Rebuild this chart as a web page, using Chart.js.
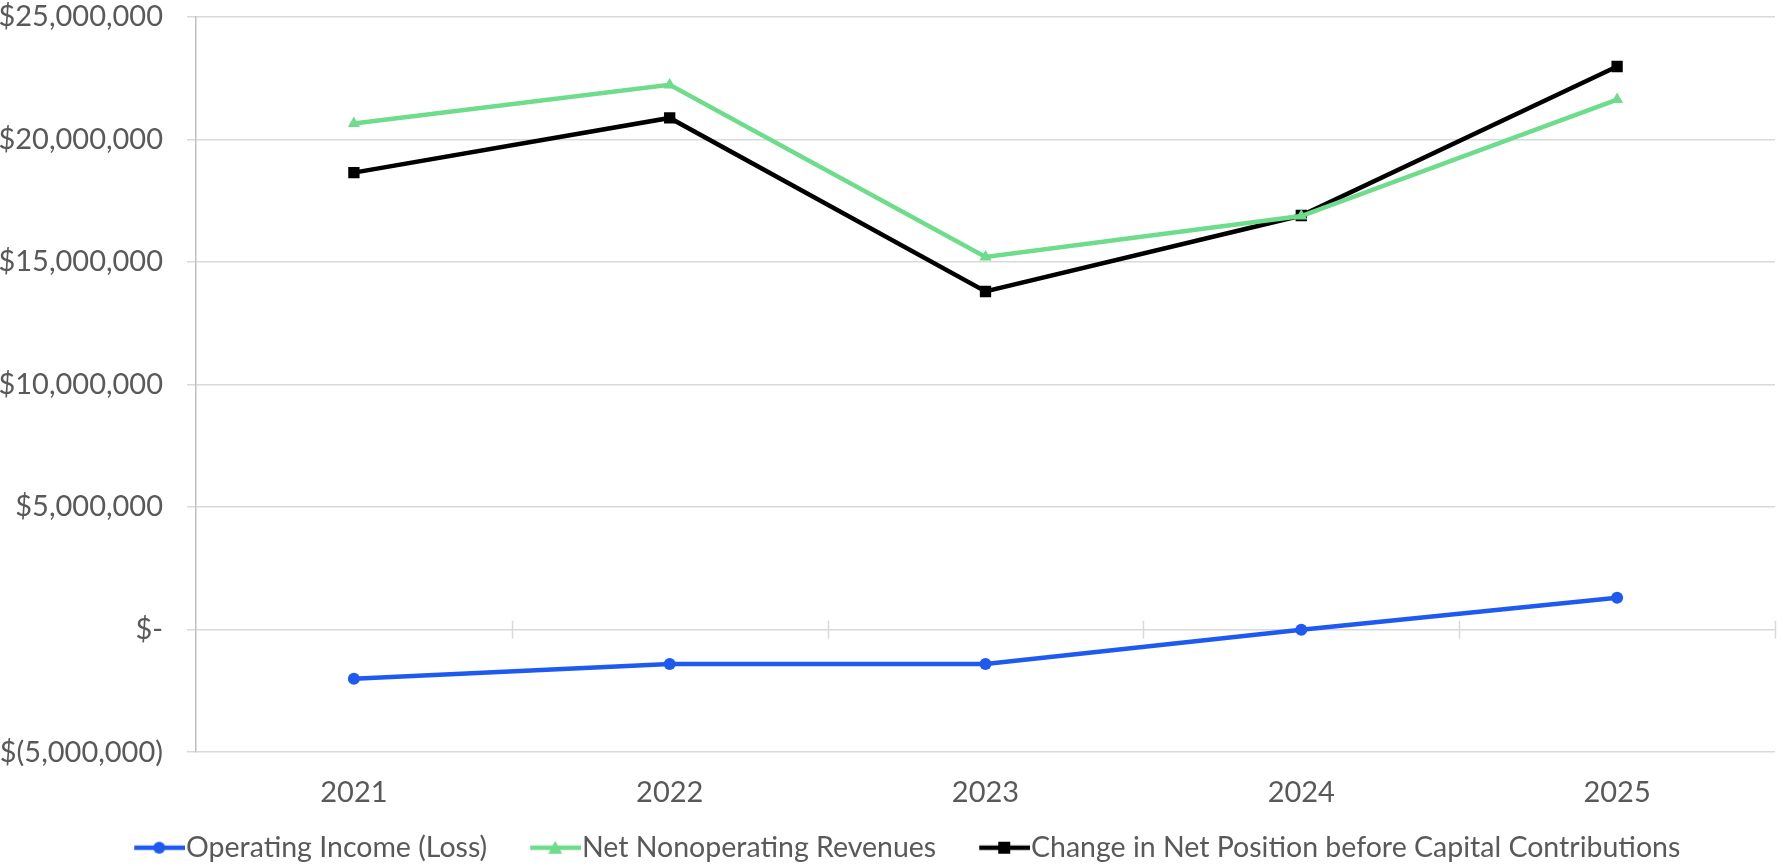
<!DOCTYPE html>
<html>
<head>
<meta charset="utf-8">
<script src="https://cdn.jsdelivr.net/npm/chart.js@4/dist/chart.umd.min.js"></script>
<style>
  html, body { margin: 0; padding: 0; background: #fff; }
  #wrap { width: 1783px; height: 866px; }
</style>
</head>
<body>
<div id="wrap"><canvas id="chart"></canvas></div>
<script>
const years = ['2021', '2022', '2023', '2024', '2025'];
const operatingIncome = [-2000000, -1400000, -1400000, 0, 1300000];
const netNonoperating = [20650000, 22230000, 15210000, 16880000, 21630000];
const changeInNetPosition = [18650000, 20880000, 13800000, 16900000, 22980000];
const yTicks = [-5000000, 0, 5000000, 10000000, 15000000, 20000000, 25000000];

const FONT = 'Lato, "Open Sans", sans-serif';
const TEXT = '#595959';
const GRID = '#d9d9d9';

// money format like the sheet: $25,000,000 / $- / $(5,000,000)
const money = v => {
  if (v === 0) return '$-';
  const s = Math.abs(v).toLocaleString('en-US');
  return v < 0 ? '$(' + s + ')' : '$' + s;
};

// legend swatch: short line with the marker in the middle,
// drawn at the right end of a wider transparent image so items get more room
function swatch(color, style) {
  const c = document.createElement('canvas');
  c.width = 99; c.height = 16;
  const g = c.getContext('2d');
  const x0 = 48, mid = x0 + 25;
  g.strokeStyle = color; g.fillStyle = color; g.lineWidth = 4.5;
  g.beginPath(); g.moveTo(x0, 8); g.lineTo(99, 8); g.stroke();
  g.beginPath();
  if (style === 'circle') g.arc(mid, 8, 6, 0, Math.PI * 2);
  else if (style === 'rect') g.rect(mid - 6, 2, 12, 12);
  else { g.moveTo(mid, 1); g.lineTo(mid + 7, 14); g.lineTo(mid - 7, 14); g.closePath(); }
  g.fill();
  return c;
}

// short tick marks across the zero line between the categories
const zeroTicks = {
  id: 'zeroTicks',
  afterDatasetsDraw(chart) {
    const { ctx, scales: { x, y } } = chart;
    const y0 = y.getPixelForValue(0);
    const step = x.getPixelForValue(1) - x.getPixelForValue(0);
    ctx.save();
    ctx.strokeStyle = GRID;
    ctx.lineWidth = 1.5;
    for (let i = 0; i < years.length; i++) {
      const px = Math.round(x.getPixelForValue(i) + step / 2) + 0.5;
      ctx.beginPath();
      ctx.moveTo(px, y0 - 9);
      ctx.lineTo(px, y0 + 9);
      ctx.stroke();
    }
    ctx.restore();
  }
};

new Chart(document.getElementById('chart'), {
  type: 'line',
  data: {
    labels: years,
    datasets: [{
      label: 'Operating Income (Loss)',
      data: operatingIncome,
      borderColor: '#1f5af0',
      backgroundColor: '#1f5af0',
      pointStyle: 'circle',
      pointRadius: 6,
      legendSwatch: swatch('#1f5af0', 'circle')
    }, {
      label: 'Net Nonoperating Revenues',
      data: netNonoperating,
      borderColor: '#6ddc8b',
      backgroundColor: '#6ddc8b',
      pointStyle: 'triangle',
      pointRadius: 7,
      legendSwatch: swatch('#6ddc8b', 'triangle')
    }, {
      label: 'Change in Net Position before Capital Contributions',
      data: changeInNetPosition,
      borderColor: '#000000',
      backgroundColor: '#000000',
      pointStyle: 'rect',
      pointRadius: 8,
      legendSwatch: swatch('#000000', 'rect')
    }]
  },
  options: {
    responsive: true,
    maintainAspectRatio: false,
    animation: false,
    layout: { padding: { top: 0, right: 3, left: 0, bottom: -6 } },
    elements: {
      line: { borderWidth: 4.5, tension: 0 },
      point: { borderWidth: 0, hoverRadius: 8 }
    },
    plugins: {
      tooltip: { enabled: false },
      legend: {
        position: 'bottom',
        labels: {
          font: { family: FONT, size: 28.5 },
          color: TEXT,
          usePointStyle: true,
          pointStyleWidth: 72,
          padding: 8.5,
          generateLabels(chart) {
            const items = Chart.defaults.plugins.legend.labels.generateLabels(chart);
            items.forEach(it => {
              it.pointStyle = chart.data.datasets[it.datasetIndex].legendSwatch;
            });
            return items;
          }
        }
      }
    },
    scales: {
      x: {
        offset: true,
        grid: { display: false },
        border: { display: false },
        ticks: {
          font: { family: FONT, size: 29 },
          color: TEXT,
          padding: 15
        }
      },
      y: {
        min: -5000000,
        max: 25000000,
        afterBuildTicks: s => { s.ticks = yTicks.map(v => ({ value: v })); },
        afterFit: s => {
          s.width = 196;
          // tick padding is only meant to push the labels sideways
          s.paddingTop = 17;
          s.paddingBottom = 0;
        },
        grid: { color: GRID, lineWidth: 1.5, tickLength: 9 },
        border: { color: '#bfbfbf', width: 1.5 },
        ticks: {
          font: { family: FONT, size: 29 },
          color: TEXT,
          padding: 24,
          callback: v => money(v)
        }
      }
    }
  },
  plugins: [zeroTicks]
});
</script>
</body>
</html>
